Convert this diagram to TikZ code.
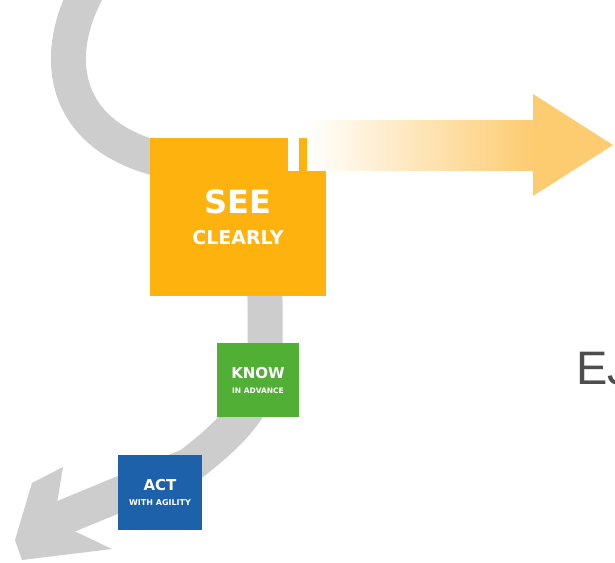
\documentclass[tikz,border=0pt]{standalone}
\usepackage{fontspec}
\setmainfont{DejaVu Sans}
\newfontfamily\letrafont{Liberation Sans}
\usepackage{xcolor}
\usepackage{tikz}
\usetikzlibrary{positioning}
\definecolor{laranja}{HTML}{FDB20E}
\definecolor{verde}{HTML}{52AF35}
\definecolor{azul}{HTML}{1D61AB}
\definecolor{cinza}{HTML}{CDCDCD}
\definecolor{pessego}{HTML}{FDCB70}
\definecolor{grafite}{HTML}{4D4D4D}
\tikzset{
    bloco/.style={
        rectangle,
        inner sep=0pt,
        align=center,
        text=white,
        font=\bfseries
    },
    passo/.style={bloco, fill=laranja},
    saber/.style={bloco, fill=verde},
    agir/.style={bloco, fill=azul},
    faixa/.style={draw=cinza, line width=35pt, line join=round},
    seta/.style={fill=pessego}
}

\begin{document}
\begin{tikzpicture}[x=1pt, y=-1pt]
        \useasboundingbox (0,0) rectangle (615,562);
        \clip (0,0) rectangle (615,562);
        % caminho cinza por tras dos blocos
        \coordinate (topo) at (97,-25);
        \coordinate (ponta) at (62,518);
        \draw[faixa] (topo) .. controls (55,35) and (48,128) .. (155,158)
            .. controls (240,190) and (265,230) .. (265,300)
            -- (265,350) .. controls (265,400) and (235,430) .. (190,465)
            -- (ponta);
        \fill[cinza] (63,467) -- (32,483) -- (15,540) -- (22,560) -- (112,549)
            -- (72,530) -- (57,503) -- cycle;
        \node[passo, minimum width=176pt, minimum height=158pt] (see) at (238,217)
            {\fontsize{32}{32}\selectfont SEE\\[15pt]\fontsize{19}{19}\selectfont CLEARLY};
        \node[saber, minimum width=82pt, minimum height=74pt] (know) at (258,380)
            {\fontsize{15}{15}\selectfont KNOW\\[3pt]\fontsize{7.5}{7.5}\selectfont IN ADVANCE};
        \node[agir, minimum width=84pt, minimum height=75pt] (act) at (160,492.5)
            {\fontsize{15}{15}\selectfont ACT\\[3pt]\fontsize{8}{8}\selectfont WITH AGILITY};
        % seta em degrade
        \fill[white] (288,120) rectangle (299,171);
        \shade[left color=white, right color=pessego] (307,120) rectangle (534,170);
        \fill[seta] (533,94) -- (613,145) -- (533,196) -- cycle;
        \node[anchor=base west, inner sep=0pt, text=grafite,
            font=\letrafont\fontsize{47}{47}\selectfont] (ej) at (576,384) {EJ};
    \end{tikzpicture}
\end{document}
